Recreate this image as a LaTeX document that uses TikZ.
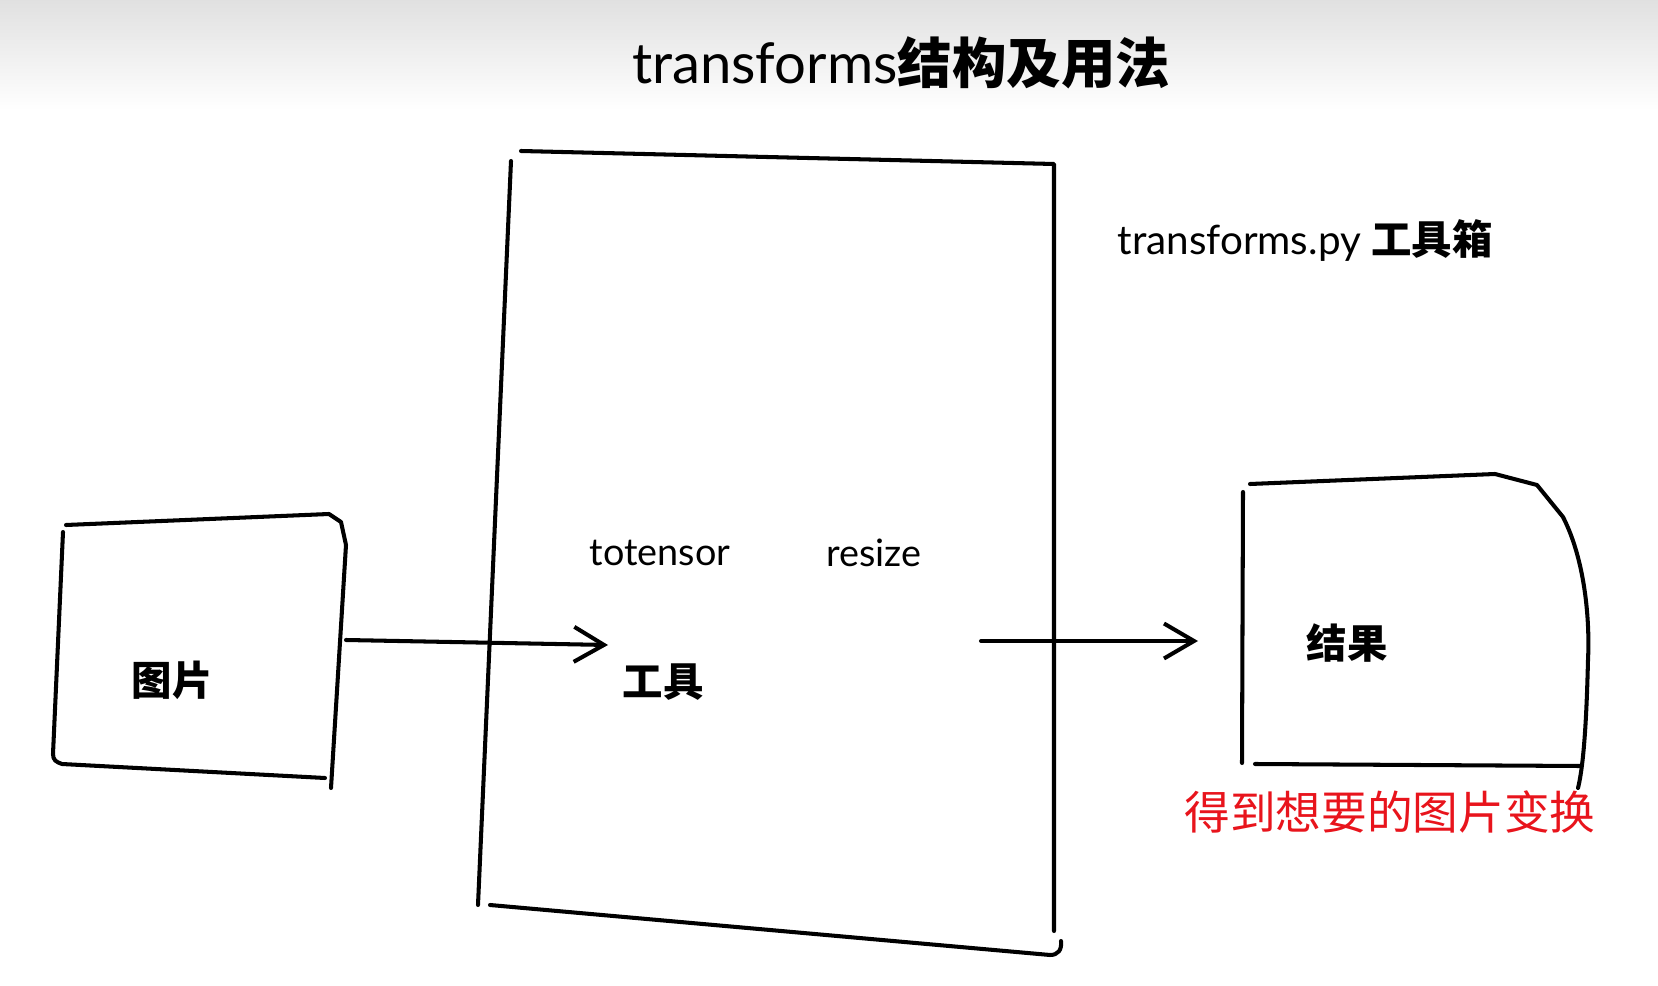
\documentclass[tikz,border=0pt]{standalone}
\usepackage{fontspec}
\usepackage{xcolor}
\usepackage{tikz}
\usetikzlibrary{arrows.meta}
\newfontfamily\cjk{Noto Sans CJK SC}
\newfontfamily\hand{Lato}
\definecolor{notered}{RGB}{232,20,28}

\begin{document}
\begin{tikzpicture}[x=0.02cm,y=-0.02cm,
    stroke/.style={black,line width=2.3pt,line cap=round,line join=round},
    handarrow/.style={stroke,-{Straight Barb[length=6mm,width=7mm]}},
    boxlabel/.style={font=\cjk\bfseries\fontsize{23}{23}\selectfont},
    toollabel/.style={font=\hand\fontsize{21.5}{21.5}\selectfont}]
    \useasboundingbox (0,0) rectangle (1658,986);
    % header band
    \shade[top color=black!12,bottom color=white] (0,0) rectangle (1658,110);
    \node (title) at (901,63){\hand\fontsize{32}{32}\selectfont transforms\cjk\bfseries\fontsize{31}{31}\selectfont 结构及用法};
    \node (module) at (1305,241){\hand\fontsize{23}{23}\selectfont transforms.py \cjk\bfseries\fontsize{23}{23}\selectfont 工具箱};

    % picture box
    \draw [stroke] (66,525) -- (329,514) -- (341,522) -- (346,545) -- (331,788);
    \draw [stroke] (63,532) -- (53,754) .. controls (53,760) and (56,762) .. (62,764) -- (325,778);
    \node [boxlabel] (img) at (172,680){图片};

    % tool box
    \draw [stroke] (521,151) -- (1054,164) -- (1054,931);
    \draw [stroke] (511,161) -- (478,905);
    \draw [stroke] (490,905) -- (1050,955) .. controls (1058,955) and (1062,950) .. (1061,941);
    \node [boxlabel] (tool) at (663,682){工具};
    \node [toollabel] (totensor) at (660,553){totensor};
    \node [toollabel] (resize) at (874,553){resize};

    % result box
    \draw [stroke] (1250,484) -- (1495,474) -- (1537,485) -- (1563,517)
        .. controls (1585,560) and (1590,620) .. (1588,660)
        .. controls (1587,700) and (1585,760) .. (1578,788);
    \draw [stroke] (1243,492) -- (1242,763);
    \draw [stroke] (1255,764) -- (1580,766);
    \node [boxlabel] (result) at (1347,643){结果};
    \node [font=\cjk\fontsize{26}{26}\selectfont, text=notered] (goal) at (1390,812){得到想要的图片变换};

    % arrows
    \coordinate (imgout) at (346,640);
    \coordinate (toolin) at (608,645);
    \coordinate (toolout) at (981,641);
    \coordinate (resultin) at (1198,641);
    \draw [handarrow] (imgout) -- (toolin);
    \draw [handarrow] (toolout) -- (resultin);
\end{tikzpicture}
\end{document}
